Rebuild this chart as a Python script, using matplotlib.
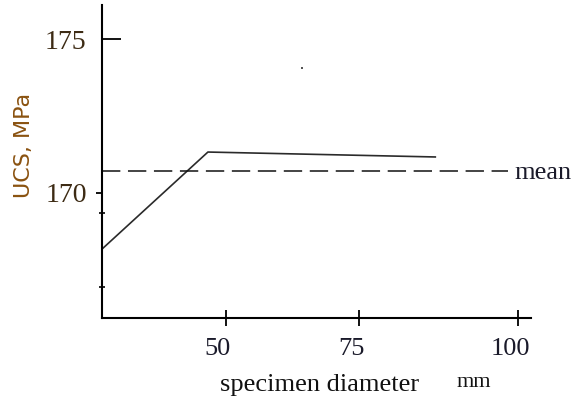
import matplotlib
matplotlib.use("Agg")
import matplotlib.pyplot as plt
import matplotlib.lines as mlines
import matplotlib.transforms as mtransforms
import numpy as np

# specimen diameter (mm) vs uniaxial compressive strength (MPa)
diameter = [26.7, 46.6, 87.0]
ucs = [168.18, 171.33, 171.17]
ucs_mean = 170.71
mean_span = [26.7, 98.4]
stray_pt = ([64.3], [174.06])

x_ticks = [50, 75, 100]
y_ticks = [170, 175]
y_minor = [166.95, 169.35]


# the diameter axis is not evenly spaced: 50-75 is narrower than 75-100
def fwd(x):
    x = np.asarray(x, dtype=float)
    return np.where(x <= 75, 226 + (x - 50) * 133 / 25, 359 + (x - 75) * 159 / 25)


def inv(u):
    u = np.asarray(u, dtype=float)
    return np.where(u <= 359, 50 + (u - 226) * 25 / 133, 75 + (u - 359) * 25 / 159)


serif = "Liberation Serif"

fig = plt.figure(figsize=(5.74, 3.98), dpi=100)
ax = fig.add_axes([0.1777, 0.201, 0.7473, 0.786])

ax.set_xscale("function", functions=(fwd, inv))
ax.set_xlim(26.69, 102.04)
ax.set_ylim(165.94, 176.1)

ax.plot(diameter, ucs, color="#2a2a2a", lw=1.2)
ax.plot(mean_span, [ucs_mean, ucs_mean], color="#111111", lw=1.1,
        dashes=(12, 5))
ax.plot(*stray_pt, "s", color="#555555", ms=2, mew=0)
ax.text(99.4, ucs_mean - 0.06, "mean", family=serif, fontsize=19,
        ha="left", va="center", color="#1a1a2a")

for s in ["top", "right"]:
    ax.spines[s].set_visible(False)
for s in ["left", "bottom"]:
    ax.spines[s].set_linewidth(1.5)

ax.set_xticks(x_ticks, [str(v) for v in x_ticks])
ax.set_yticks(y_ticks, [str(v) for v in y_ticks])
ax.set_yticks(y_minor, minor=True)
ax.tick_params(axis="x", direction="inout", length=11, width=1.3, pad=9,
               labelsize=19, labelcolor="#1a1a2a")
ax.tick_params(axis="y", which="major", direction="out", length=4, width=1.3,
               pad=7, labelsize=20, labelcolor="#3d2b14")
ax.tick_params(axis="y", which="minor", direction="inout", length=5, width=1.2)
for lab in ax.get_xticklabels() + ax.get_yticklabels():
    lab.set_family(serif)

# the 175 tick points into the plot
t175 = ax.yaxis.get_major_ticks()[1]
t175.tick1line.set_marker(mlines.TICKRIGHT)
t175.tick1line.set_markersize(14)

# nudge the diameter labels to the left of their ticks
shift = mtransforms.ScaledTranslation(-8 / 100, 0, fig.dpi_scale_trans)
for lab in ax.get_xticklabels():
    lab.set_transform(lab.get_transform() + shift)

ax.set_ylabel("UCS, MPa", family="DejaVu Sans", fontsize=16,
              color="#8a5210", va="center")
ax.yaxis.set_label_coords(-0.182, 0.553)
ax.set_xlabel("specimen diameter", family=serif, fontsize=19,
              color="#111111", va="center")
ax.xaxis.set_label_coords(0.508, -0.215)
ax.text(0.867, -0.205, "mm", transform=ax.transAxes, family=serif,
        fontsize=16, ha="center", va="center", color="#111111")

fig.savefig("out.png", dpi=100)
